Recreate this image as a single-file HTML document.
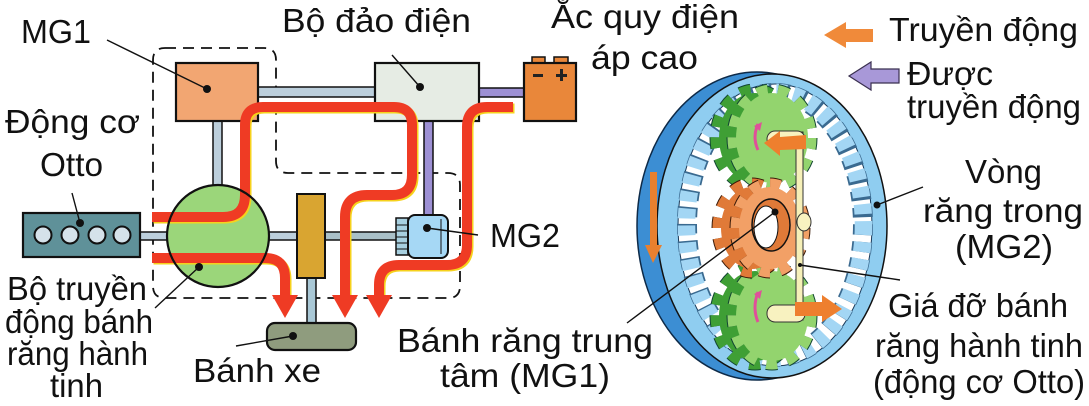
<!DOCTYPE html>
<html>
<head>
<meta charset="utf-8">
<style>
html,body{margin:0;padding:0;background:#fff;}
svg{display:block;}
text{font-family:"Liberation Sans","DejaVu Sans",sans-serif;font-size:33px;fill:#111;}
</style>
</head>
<body>
<svg width="1089" height="406" viewBox="0 0 1089 406" xmlns="http://www.w3.org/2000/svg">
<rect width="1089" height="406" fill="#fff"/>

<!-- dashed enclosure -->
<path d="M165 48 H264 Q276 48 276 60 V161 Q276 173 288 173 H448 Q460 173 460 185 V286 Q460 298 448 298 H165 Q153 298 153 286 V60 Q153 48 165 48 Z" fill="none" stroke="#111" stroke-width="1.8" stroke-dasharray="11 7"/>

<!-- shafts -->
<rect x="258" y="87" width="117" height="10" fill="#bccfdc" stroke="#111" stroke-width="1.5"/>
<rect x="479" y="88" width="45" height="9" fill="#9d90d4" stroke="#111" stroke-width="1.5"/>
<rect x="213" y="121" width="9" height="66" fill="#bccfdc" stroke="#111" stroke-width="1.5"/>
<rect x="424" y="121" width="9" height="95" fill="#9d90d4" stroke="#111" stroke-width="1.5"/>
<rect x="140" y="232" width="160" height="8" fill="#bccfdc" stroke="#111" stroke-width="1.5"/>
<rect x="325" y="232" width="72" height="8" fill="#a9c0c8" stroke="#111" stroke-width="1.5"/>
<rect x="307" y="278" width="9" height="46" fill="#a9c8d6" stroke="#111" stroke-width="1.5"/>

<!-- MG1 box -->
<rect x="176" y="63" width="82" height="58" fill="#f2a672" stroke="#111" stroke-width="2.2"/>
<!-- inverter -->
<rect x="375" y="63" width="104" height="58" fill="#e6ece4" stroke="#111" stroke-width="2.2"/>
<!-- battery -->
<rect x="532" y="57" width="13" height="7" fill="#e9873a" stroke="#111" stroke-width="1.5"/>
<rect x="554" y="57" width="14" height="7" fill="#e9873a" stroke="#111" stroke-width="1.5"/>
<rect x="524" y="63" width="52" height="58" fill="#e9873a" stroke="#111" stroke-width="2.2"/>
<rect x="533" y="74" width="10" height="3" fill="#222"/>
<rect x="556" y="74" width="11" height="3" fill="#222"/>
<rect x="560" y="69" width="3" height="12" fill="#222"/>

<!-- planetary circle fill -->
<circle cx="218" cy="236" r="51" fill="#9bd67a"/>

<!-- engine -->
<rect x="23" y="213" width="117" height="44" fill="#5f9199" stroke="#111" stroke-width="2.2"/>
<circle cx="43" cy="235" r="8.5" fill="#d5e2ea" stroke="#111" stroke-width="2"/>
<circle cx="70" cy="235" r="8.5" fill="#d5e2ea" stroke="#111" stroke-width="2"/>
<circle cx="97" cy="235" r="8.5" fill="#d5e2ea" stroke="#111" stroke-width="2"/>
<circle cx="122" cy="235" r="8.5" fill="#d5e2ea" stroke="#111" stroke-width="2"/>

<!-- yellow block -->
<rect x="297" y="194" width="28" height="84" fill="#d9a531" stroke="#111" stroke-width="2"/>
<!-- wheel -->
<rect x="267" y="323" width="89" height="27" rx="8" fill="#8f9c7e" stroke="#111" stroke-width="2.2"/>

<!-- MG2 -->
<rect x="396" y="218" width="12" height="37" fill="#a8d0e0" stroke="#111" stroke-width="1.5"/>
<line x1="396" y1="225" x2="408" y2="225" stroke="#111" stroke-width="1"/>
<line x1="396" y1="231" x2="408" y2="231" stroke="#111" stroke-width="1"/>
<line x1="396" y1="237" x2="408" y2="237" stroke="#111" stroke-width="1"/>
<line x1="396" y1="243" x2="408" y2="243" stroke="#111" stroke-width="1"/>
<line x1="396" y1="249" x2="408" y2="249" stroke="#111" stroke-width="1"/>
<rect x="408" y="215" width="40" height="43" rx="7" fill="#a6d8f5" stroke="#111" stroke-width="2"/>
<line x1="441" y1="219" x2="441" y2="254" stroke="#111" stroke-width="1"/>

<!-- red power flows -->
<g fill="none" stroke-linejoin="round">
  <g transform="translate(1.5,1.5)" stroke="#f6d21c" stroke-width="10">
    <path d="M152 217 H223 Q245 217 245 195 V125 Q245 107 263 107 H394 Q412 107 412 125 V175 Q412 195 392 195 H367 Q345 195 345 217 V297"/>
    <path d="M152 258 H265 Q285 258 285 278 V297"/>
    <path d="M513 107 H487 Q467 107 467 127 V245 Q467 265 447 265 H399 Q379 265 379 285 V297"/>
  </g>
  <g stroke="#ef3b24" stroke-width="10">
    <path d="M152 217 H223 Q245 217 245 195 V125 Q245 107 263 107 H394 Q412 107 412 125 V175 Q412 195 392 195 H367 Q345 195 345 217 V297"/>
    <path d="M152 258 H265 Q285 258 285 278 V297"/>
    <path d="M513 107 H487 Q467 107 467 127 V245 Q467 265 447 265 H399 Q379 265 379 285 V297"/>
  </g>
</g>
<polygon points="272,295 298,295 285,318" fill="#ef3b24"/>
<polygon points="332,295 358,295 345,318" fill="#ef3b24"/>
<polygon points="366,295 392,295 379,318" fill="#ef3b24"/>

<!-- circle outline on top -->
<circle cx="218" cy="236" r="51" fill="none" stroke="#111" stroke-width="2.2"/>

<!-- pointer lines & dots (left) -->
<g stroke="#111" stroke-width="1.4">
  <line x1="107" y1="40" x2="207" y2="89"/>
  <line x1="392" y1="55" x2="420" y2="87"/>
  <line x1="72" y1="193" x2="80" y2="223"/>
  <line x1="155" y1="308" x2="199" y2="267"/>
  <line x1="236" y1="346" x2="293" y2="336"/>
  <line x1="427" y1="228" x2="478" y2="235"/>
</g>
<g fill="#111">
  <circle cx="207" cy="89" r="4"/>
  <circle cx="420" cy="87" r="4"/>
  <circle cx="80" cy="223" r="4"/>
  <circle cx="199" cy="267" r="4"/>
  <circle cx="293" cy="336" r="4"/>
  <circle cx="427" cy="228" r="4"/>
</g>

<!-- legend arrows -->
<polygon points="824,35 846,22 846,29 873,29 873,42 846,42 846,48" fill="#f08a3a"/>
<polygon points="849,76 871,62 871,69 899,69 899,83 871,83 871,90" fill="#a898d8" stroke="#3a3050" stroke-width="1.2"/>

<!-- ring gear -->
<ellipse cx="757" cy="226" rx="120" ry="154" fill="#3c8ed3" stroke="#0d2a48" stroke-width="1.5"/>
<ellipse cx="772" cy="226" rx="115" ry="152" fill="#8fcdf0" stroke="#111" stroke-width="1.5"/>
<ellipse cx="775" cy="225" rx="97" ry="141" fill="#fff" stroke="#1a3a5a" stroke-width="1"/>
<ellipse cx="775" cy="225" rx="88" ry="132" fill="none" stroke="#3a6a90" stroke-width="20" stroke-dasharray="10 7"/>
<ellipse cx="775" cy="225" rx="88.5" ry="132.5" fill="none" stroke="#a3d6f4" stroke-width="17.5" stroke-dasharray="10 7"/>

<!-- rim arrow -->
<polygon points="650,172 657,172 657,245 662,245 653,263 645,245 650,245" fill="#e8802f"/>

<!-- top planet gear -->
<g>
  <ellipse cx="755" cy="138" rx="40" ry="49" fill="none" stroke="#143" stroke-width="11" stroke-dasharray="11 10.6"/>
  <ellipse cx="755" cy="138" rx="40" ry="49" fill="none" stroke="#3f9f35" stroke-width="9" stroke-dasharray="11 10.6"/>
  <ellipse cx="755" cy="138" rx="36" ry="45" fill="#3f9f35"/>
  <ellipse cx="772" cy="138" rx="40" ry="49" fill="none" stroke="#143" stroke-width="11" stroke-dasharray="11 10.6"/>
  <ellipse cx="772" cy="138" rx="40" ry="49" fill="none" stroke="#93d46e" stroke-width="9" stroke-dasharray="11 10.6"/>
  <ellipse cx="772" cy="138" rx="36" ry="45" fill="#93d46e"/>
</g>
<!-- bottom planet gear -->
<g>
  <ellipse cx="755" cy="316" rx="40" ry="49" fill="none" stroke="#143" stroke-width="11" stroke-dasharray="11 10.6"/>
  <ellipse cx="755" cy="316" rx="40" ry="49" fill="none" stroke="#3f9f35" stroke-width="9" stroke-dasharray="11 10.6"/>
  <ellipse cx="755" cy="316" rx="36" ry="45" fill="#3f9f35"/>
  <ellipse cx="772" cy="316" rx="40" ry="49" fill="none" stroke="#143" stroke-width="11" stroke-dasharray="11 10.6"/>
  <ellipse cx="772" cy="316" rx="40" ry="49" fill="none" stroke="#93d46e" stroke-width="9" stroke-dasharray="11 10.6"/>
  <ellipse cx="772" cy="316" rx="36" ry="45" fill="#93d46e"/>
</g>
<!-- sun gear -->
<g>
  <ellipse cx="752" cy="228" rx="35" ry="45" fill="none" stroke="#3a1a08" stroke-width="11" stroke-dasharray="10.5 10.5"/>
  <ellipse cx="752" cy="228" rx="35" ry="45" fill="none" stroke="#e07a38" stroke-width="9" stroke-dasharray="10.5 10.5"/>
  <ellipse cx="752" cy="228" rx="31" ry="41" fill="#e07a38"/>
  <ellipse cx="770" cy="228" rx="35" ry="45" fill="none" stroke="#3a1a08" stroke-width="11" stroke-dasharray="10.5 10.5"/>
  <ellipse cx="770" cy="228" rx="35" ry="45" fill="none" stroke="#f2a066" stroke-width="9" stroke-dasharray="10.5 10.5"/>
  <ellipse cx="770" cy="228" rx="31" ry="41" fill="#f2a066"/>
  <ellipse cx="771" cy="225" rx="19" ry="26" fill="#e07a38" stroke="#111" stroke-width="1.5"/>
  <ellipse cx="766" cy="227" rx="12" ry="21" fill="#fff" stroke="#111" stroke-width="1"/>
</g>

<!-- carrier -->
<rect x="796" y="132" width="7" height="188" fill="#f6f0b8" stroke="#333" stroke-width="1"/>
<rect x="767" y="131" width="38" height="16" rx="8" fill="#f8f2c0" stroke="#333" stroke-width="1"/>
<rect x="767" y="305" width="38" height="17" rx="8" fill="#f8f2c0" stroke="#333" stroke-width="1"/>
<ellipse cx="804" cy="222" rx="7" ry="9" fill="#f8f2c0" stroke="#333" stroke-width="1"/>

<!-- orange arrows on pins -->
<polygon points="764,143 780,131 780,137 806,135 806,149 780,150 780,156" fill="#ee7f2e"/>
<polygon points="795,302 822,302 822,295 842,309 822,322 822,316 795,316" fill="#ee7f2e"/>

<!-- pink rotation arrows -->
<path d="M758 150 Q752 137 758 124" fill="none" stroke="#e0509a" stroke-width="3"/>
<polygon points="754,126 762,122 760,131" fill="#e0509a"/>
<path d="M758 322 Q752 308 758 292" fill="none" stroke="#e0509a" stroke-width="3"/>
<polygon points="754,294 762,290 760,299" fill="#e0509a"/>

<!-- right pointer lines -->
<g stroke="#111" stroke-width="1.4">
  <line x1="877" y1="205" x2="923" y2="187"/>
  <line x1="800" y1="265" x2="900" y2="280"/>
  <line x1="775" y1="212" x2="627" y2="323"/>
</g>
<circle cx="877" cy="205" r="3.5" fill="#111"/>
<circle cx="775" cy="212" r="3.5" fill="#111"/>
<circle cx="800" cy="265" r="2" fill="#111"/>

<!-- texts -->
<text x="21" y="43" textLength="70" lengthAdjust="spacingAndGlyphs">MG1</text>
<text x="282" y="32" textLength="189" lengthAdjust="spacingAndGlyphs">Bộ đảo điện</text>
<text x="551" y="28" textLength="188" lengthAdjust="spacingAndGlyphs">Ắc quy điện</text>
<text x="591" y="69" textLength="107" lengthAdjust="spacingAndGlyphs">áp cao</text>
<text x="889" y="41" textLength="189" lengthAdjust="spacingAndGlyphs">Truyền động</text>
<text x="907" y="85" textLength="86" lengthAdjust="spacingAndGlyphs">Được</text>
<text x="907" y="118" textLength="174" lengthAdjust="spacingAndGlyphs">truyền động</text>
<text x="5" y="133" textLength="135" lengthAdjust="spacingAndGlyphs">Động cơ</text>
<text x="40" y="176" textLength="63" lengthAdjust="spacingAndGlyphs">Otto</text>
<text x="7" y="300" textLength="140" lengthAdjust="spacingAndGlyphs">Bộ truyền</text>
<text x="5" y="333" textLength="148" lengthAdjust="spacingAndGlyphs">động bánh</text>
<text x="7" y="365" textLength="141" lengthAdjust="spacingAndGlyphs">răng hành</text>
<text x="50" y="397" textLength="53" lengthAdjust="spacingAndGlyphs">tinh</text>
<text x="490" y="247" textLength="70" lengthAdjust="spacingAndGlyphs">MG2</text>
<text x="193" y="382" textLength="128" lengthAdjust="spacingAndGlyphs">Bánh xe</text>
<text x="397" y="352" textLength="256" lengthAdjust="spacingAndGlyphs">Bánh răng trung</text>
<text x="440" y="387" textLength="170" lengthAdjust="spacingAndGlyphs">tâm (MG1)</text>
<text x="965" y="183" textLength="77" lengthAdjust="spacingAndGlyphs">Vòng</text>
<text x="923" y="222" textLength="160" lengthAdjust="spacingAndGlyphs">răng trong</text>
<text x="955" y="258" textLength="98" lengthAdjust="spacingAndGlyphs">(MG2)</text>
<text x="888" y="317" textLength="180" lengthAdjust="spacingAndGlyphs">Giá đỡ bánh</text>
<text x="875" y="357" textLength="208" lengthAdjust="spacingAndGlyphs">răng hành tinh</text>
<text x="873" y="393" textLength="212" lengthAdjust="spacingAndGlyphs">(động cơ Otto)</text>
</svg>
</body>
</html>
